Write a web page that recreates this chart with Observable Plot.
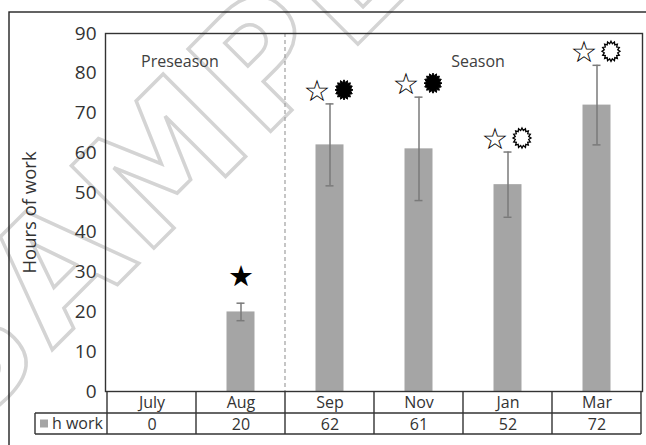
<!DOCTYPE html>
<html><head><meta charset="utf-8">
<script src="https://cdn.jsdelivr.net/npm/d3@7"></script>
<script src="https://cdn.jsdelivr.net/npm/@observablehq/plot@0.6"></script>
<style>
body{margin:0;background:#fff}
#chart{position:relative;width:646px;height:445px;overflow:hidden}
</style>
</head><body><div id="chart"></div>
<script>
// ---- data ----
const months = ["July", "Aug", "Sep", "Nov", "Jan", "Mar"];
const hours = [0, 20, 62, 61, 52, 72];
const errors = [0, 2.2, 10.3, 13, 8.2, 10];
const starMarks = ["", "★", "☆", "☆", "☆", "☆"];
const burstMarks = ["", "", "filled", "filled", "open", "open"];
const periods = ["Preseason", "Season"];
const periodAt = ["July", "Jan"];
const seriesName = "h work";
const yTicks = [0, 10, 20, 30, 40, 50, 60, 70, 80, 90];

const rows = months.map((m, i) => ({
  month: m, h: hours[i], lo: hours[i] - errors[i], hi: hours[i] + errors[i],
  star: starMarks[i], burst: burstMarks[i]
}));
const errRows = rows.filter((d, i) => errors[i] > 0);

function burstSymbol(n = 16, inner = 0.76, sy = 1.12) {
  return {
    draw(ctx, size) {
      const r = Math.sqrt(size / Math.PI);
      for (let i = 0; i < 2 * n; i++) {
        const a = i * Math.PI / n;
        const rr = i % 2 ? r * inner : r;
        const x = rr * Math.sin(a), y = -rr * Math.cos(a) * sy;
        i ? ctx.lineTo(x, y) : ctx.moveTo(x, y);
      }
      ctx.closePath();
    }
  };
}
const burst = burstSymbol();

const W = 646, H = 445;
const ML = 105, MR = 4, MT = 33, MB = 54;
const font = "'Open Sans', 'Noto Sans', sans-serif";
const barColor = "#a5a5a5", errColor = "#7a7a7a", ink = "#333";

const plot = Plot.plot({
  width: W, height: H,
  marginLeft: ML, marginRight: MR, marginTop: MT, marginBottom: MB,
  style: {fontFamily: font, fontSize: "19px", color: ink, background: "transparent"},
  x: {domain: months, padding: 0, axis: null},
  y: {domain: [0, 90]},
  marks: [
    Plot.axisY({ticks: yTicks, tickSize: 0, tickPadding: 9, fontSize: 19,
      label: null}),
    Plot.axisY({ticks: [], tickSize: 0, fontSize: 18.5,
      label: "Hours of work", labelAnchor: "center", labelArrow: "none", labelOffset: 83}),
    Plot.barY(rows, {x: "month", y: "h", fill: barColor, insetLeft: 30.5, insetRight: 30.5}),
    Plot.ruleX(errRows, {x: "month", y1: "lo", y2: "hi", stroke: errColor, strokeWidth: 1.5}),
    Plot.tickY(errRows, {x: "month", y: "lo", stroke: errColor, strokeWidth: 1.5, inset: 40.5}),
    Plot.tickY(errRows, {x: "month", y: "hi", stroke: errColor, strokeWidth: 1.5, inset: 40.5}),
    Plot.text(rows.filter(d => d.star === "★"), {x: "month", y: "hi", text: "star", dy: -26,
      fontSize: 29, fontFamily: "DejaVu Sans", fill: "#000"}),
    Plot.text(rows.filter(d => d.star === "☆"), {x: "month", y: "hi", text: "star", dx: -13, dy: -13,
      fontSize: 30, fontFamily: "DejaVu Sans", fill: "#000"}),
    Plot.dot(rows.filter(d => d.burst === "filled"), {x: "month", y: "hi", dx: 14, dy: -14, r: 9,
      symbol: burst, fill: "#000", stroke: "#000", strokeWidth: 1}),
    Plot.dot(rows.filter(d => d.burst === "open"), {x: "month", y: "hi", dx: 14, dy: -14, r: 9,
      symbol: burst, fill: "#fff", stroke: "#000", strokeWidth: 1.3}),
    Plot.text(periods.slice(0, 1), {x: () => periodAt[0], frameAnchor: "top", lineAnchor: "middle",
      dy: 28, dx: -11, textAnchor: "start", fontSize: 16, fill: "#404040"}),
    Plot.text(periods.slice(1), {x: () => periodAt[1], frameAnchor: "top", lineAnchor: "middle",
      dy: 28, dx: -30, textAnchor: "middle", fontSize: 16, fill: "#404040"}),
    Plot.frame({stroke: ink, strokeWidth: 1.4}),
    Plot.text(months, {x: d => d, text: d => d, frameAnchor: "bottom", lineAnchor: "middle", dy: 11, fontSize: 16, fill: ink}),
    Plot.text(hours, {x: (d, i) => months[i], text: d => String(d), frameAnchor: "bottom", lineAnchor: "middle", dy: 33, fontSize: 16, fill: ink})
  ]
});
document.getElementById("chart").appendChild(plot);

// ---- table grid, divider, outer frame and watermark using the plot's scales ----
const svg = d3.select(plot);
const xs = plot.scale("x"), ys = plot.scale("y");
const bw = xs.bandwidth;
const xEnd = xs.apply(months[months.length - 1]) + bw;
const yBase = ys.apply(0), yTop = ys.apply(90);
const row1 = yBase + 22, row2 = yBase + 43, tableLeft = 35;

// dashed divider between Aug and Sep
svg.insert("line", ":first-child")
  .attr("x1", xs.apply("Sep")).attr("x2", xs.apply("Sep"))
  .attr("y1", yTop).attr("y2", yBase)
  .attr("stroke", "#a0a0a0").attr("stroke-width", 1.2).attr("stroke-dasharray", "4,3");
const g = svg.append("g").attr("fill", "none").attr("stroke", ink).attr("stroke-width", 1.4);
g.append("line").attr("x1", tableLeft).attr("x2", xEnd).attr("y1", row1).attr("y2", row1);
g.append("line").attr("x1", tableLeft).attr("x2", xEnd).attr("y1", row2).attr("y2", row2);
g.append("line").attr("x1", tableLeft).attr("x2", tableLeft).attr("y1", row1).attr("y2", row2);
months.forEach(m => {
  const a = xs.apply(m);
  g.append("line").attr("x1", a).attr("x2", a).attr("y1", yBase).attr("y2", row2);
});
g.append("line").attr("x1", xEnd).attr("x2", xEnd).attr("y1", yBase).attr("y2", row2);
// legend cell
svg.append("rect").attr("x", 40).attr("y", row1 + 6.5).attr("width", 8).attr("height", 8).attr("fill", barColor);
svg.append("text").attr("x", 52).attr("y", (row1 + row2) / 2).attr("dy", "0.35em")
  .attr("text-anchor", "start").attr("font-size", 16).attr("fill", ink).attr("font-family", font).text(seriesName);
// outer border
svg.append("rect").attr("x", 9).attr("y", 12).attr("width", 800).attr("height", 600)
  .attr("fill", "none").attr("stroke", "#222").attr("stroke-width", 1.4);
// watermark
svg.insert("text", ":first-child")
  .attr("transform", "translate(-34,436) rotate(-45)")
  .attr("text-anchor", "start")
  .attr("font-family", "DejaVu Sans").attr("font-weight", "bold").attr("font-size", 160)
  .attr("letter-spacing", 6)
  .attr("fill", "none").attr("stroke", "#d4d4d4").attr("stroke-width", 3.5)
  .text("SAMPLE");
</script>
</body></html>
